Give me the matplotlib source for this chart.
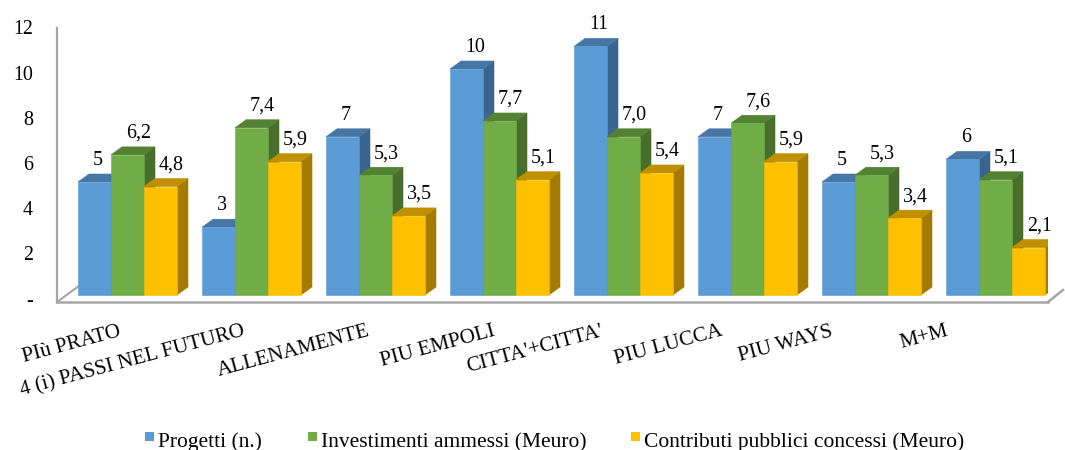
import matplotlib
matplotlib.use("Agg")
import matplotlib.pyplot as plt
from matplotlib.patches import Polygon, Rectangle
from matplotlib.lines import Line2D
from matplotlib.transforms import ScaledTranslation

# ---- data ----
categories = ["PIù PRATO", "4 (i) PASSI NEL FUTURO", "ALLENAMENTE", "PIU EMPOLI",
              "CITTA'+CITTA'", "PIU LUCCA", "PIU WAYS", "M+M"]
series_names = ["Progetti (n.)", "Investimenti ammessi (Meuro)",
                "Contributi pubblici concessi (Meuro)"]
progetti = [5, 3, 7, 10, 11, 7, 5, 6]
investimenti = [6.2, 7.4, 5.3, 7.7, 7.0, 7.6, 5.3, 5.1]
contributi = [4.8, 5.9, 3.5, 5.1, 5.4, 5.9, 3.4, 2.1]
y_ticks = [0, 2, 4, 6, 8, 10, 12]

# ---- style ----
front_colors = ["#5B9BD5", "#70AD47", "#FFC000"]
top_colors = ["#4676A6", "#538233", "#C09000"]
side_colors = ["#3A6591", "#476E2C", "#A37B00"]
axis_color = "#A6A6A6"
FONT = "Liberation Serif"

# ---- layout (pixels) ----
W, H, DPI = 1065, 450, 100
AX_LEFT, AX_RIGHT, AX_BOTTOM = 57, 1048, 302
WALL_TOP = 28
BASE = 295            # zero level of the bar fronts
PX_UNIT = 22.6        # pixels per value unit
PITCH = 124           # distance between groups
FIRST_CENTER = 127.5  # centre of the first group's fronts
BAR_W = 33
DEPTH_X, DEPTH_Y = 11, 8
LABEL_SHIFT = [-9.5, -9.5, -8.5, -7.5, -23.5, -27.5, -41.5, -50.5]
LEGEND_X = [145, 308, 631]   # left edge of each legend swatch
LEGEND_Y = 441               # bottom edge of the swatches (from top)
SWATCH = 9

plt.rcParams["font.family"] = [FONT, "DejaVu Serif"]

fig = plt.figure(figsize=(W / DPI, H / DPI), dpi=DPI)
y_top = 12.3
ax_top_px = BASE - y_top * PX_UNIT
ax = fig.add_axes([AX_LEFT / W, (H - AX_BOTTOM) / H,
                   (AX_RIGHT - AX_LEFT) / W, (AX_BOTTOM - ax_top_px) / H])
x_lo = (AX_LEFT - FIRST_CENTER) / PITCH
x_hi = (AX_RIGHT - FIRST_CENTER) / PITCH
y_lo = (BASE - AX_BOTTOM) / PX_UNIT
ax.set_xlim(x_lo, x_hi)
ax.set_ylim(y_lo, y_top)

# depth offsets expressed in data units
ddx = DEPTH_X / PITCH
ddy = DEPTH_Y / PX_UNIT
bw = BAR_W / PITCH

def px2pt(p):
    return p * 72 / DPI

# ---- 3D-looking bars ----
all_series = [progetti, investimenti, contributi]
for k in range(len(categories)):
    for s, values in enumerate(all_series):
        v = values[k]
        x0 = k - 1.5 * bw + s * bw
        x1 = x0 + bw
        side = Polygon([(x1, 0), (x1 + ddx, ddy), (x1 + ddx, v + ddy), (x1, v)],
                       closed=True, facecolor=side_colors[s], edgecolor=side_colors[s],
                       lw=0.4, zorder=3)
        top = Polygon([(x0, v), (x0 + ddx, v + ddy), (x1 + ddx, v + ddy), (x1, v)],
                      closed=True, facecolor=top_colors[s], edgecolor=top_colors[s],
                      lw=0.4, zorder=3)
        ax.add_patch(side)
        ax.add_patch(top)
        ax.bar(x0, v, width=bw, align="edge", color=front_colors[s],
               edgecolor=front_colors[s], lw=0.4, zorder=3)
        txt = f"{v:d}" if s == 0 else f"{v:.1f}".replace(".", ",")
        ax.annotate(txt, xy=(x0 + bw / 2, v), xytext=(px2pt(-1.5), px2pt(17)),
                    textcoords="offset points", ha="left", va="baseline",
                    fontsize=14.4, color="black", zorder=5, annotation_clip=False)

# ---- walls / floor edges ----
for sp in ["top", "right"]:
    ax.spines[sp].set_visible(False)
ax.spines["left"].set_color(axis_color)
ax.spines["bottom"].set_color(axis_color)
ax.spines["left"].set_linewidth(1.6)
ax.spines["bottom"].set_linewidth(1.8)
ax.spines["left"].set_bounds(y_lo, (BASE - WALL_TOP) / PX_UNIT)

# floor corners
fl = 26 / PITCH, 19 / PX_UNIT
ax.add_line(Line2D([x_lo, x_lo + fl[0]], [y_lo, y_lo + fl[1]], color=axis_color,
                   lw=1.5, zorder=2, clip_on=False))
fr = 15 / PITCH, 12 / PX_UNIT
ax.add_line(Line2D([x_hi, x_hi + fr[0]], [y_lo, y_lo + fr[1]], color=axis_color,
                   lw=1.8, zorder=2, clip_on=False))

# ---- y axis ----
ax.set_yticks(y_ticks)
ax.set_yticklabels(["-" if t == 0 else str(t) for t in y_ticks], fontsize=14.4)
ax.tick_params(axis="y", length=0, pad=px2pt(24))
for lab in ax.get_yticklabels():
    lab.set_transform(lab.get_transform() + ScaledTranslation(0, -3.5 / DPI, fig.dpi_scale_trans))

# ---- category labels ----
ax.set_xticks([])
for k, name in enumerate(categories):
    ax.annotate(name, xy=(k, y_lo), xytext=(px2pt(LABEL_SHIFT[k]), px2pt(-20)),
                textcoords="offset points", ha="right", va="top", rotation=15,
                rotation_mode="anchor", fontsize=15.2, annotation_clip=False)

# ---- legend ----
for name, color, lx in zip(series_names, front_colors, LEGEND_X):
    fig.patches.append(Rectangle((lx / W, (H - LEGEND_Y) / H), SWATCH / W, SWATCH / H,
                                 transform=fig.transFigure, facecolor=color,
                                 edgecolor="none"))
    fig.text((lx + SWATCH + 4) / W, (H - 447) / H, name, ha="left", va="baseline",
             fontsize=15.5)

fig.savefig("out.png", dpi=DPI)
